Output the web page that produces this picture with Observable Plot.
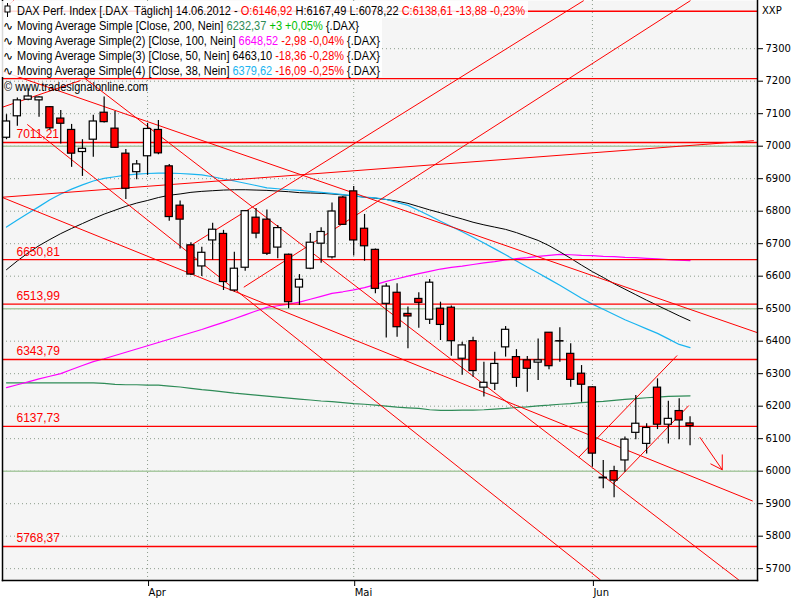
<!DOCTYPE html>
<html><head><meta charset="utf-8">
<script src="https://cdn.jsdelivr.net/npm/d3@7"></script>
<script src="https://cdn.jsdelivr.net/npm/@observablehq/plot@0.6"></script>
<style>body{margin:0;background:#fff} #chart{width:800px;height:600px}</style>
</head><body><div id="chart"></div>
<script>
// trading days (index = position)
const dates = ["2012-03-14","2012-03-15","2012-03-16","2012-03-19","2012-03-20","2012-03-21","2012-03-22","2012-03-23","2012-03-26","2012-03-27","2012-03-28","2012-03-29","2012-03-30",
"2012-04-02","2012-04-03","2012-04-04","2012-04-05","2012-04-10","2012-04-11","2012-04-12","2012-04-13","2012-04-16","2012-04-17","2012-04-18","2012-04-19","2012-04-20","2012-04-23","2012-04-24","2012-04-25","2012-04-26","2012-04-27","2012-04-30",
"2012-05-02","2012-05-03","2012-05-04","2012-05-07","2012-05-08","2012-05-09","2012-05-10","2012-05-11","2012-05-14","2012-05-15","2012-05-16","2012-05-17","2012-05-18","2012-05-21","2012-05-22","2012-05-23","2012-05-24","2012-05-25","2012-05-28","2012-05-29","2012-05-30","2012-05-31",
"2012-06-01","2012-06-04","2012-06-05","2012-06-06","2012-06-07","2012-06-08","2012-06-11","2012-06-12","2012-06-13","2012-06-14"];
const open  = [7026,7092,7143,7141,7120,7085,7050,6982,7020,7103,7054,6977,6920,6969,7050,6938,6817,6695,6630,6710,6730,6556,6626,6780,6774,6688,6666,6565,6623,6700,6658,6842,6861,6746,6681,6515,6549,6484,6530,6466,6500,6503,6346,6400,6257,6269,6381,6351,6341,6334,6426,6400,6361,6300,6258,5980,6000,6033,6118,6084,6257,6143,6185,6146.92];
const high  = [7097,7148,7177,7152,7122,7110,7067,7020,7095,7151,7107,6990,6956,7070,7079,6944,6831,6703,6689,6763,6741,6674,6802,6808,6804,6756,6668,6605,6731,6749,6825,6845,6876,6790,6684,6577,6577,6505,6549,6590,6520,6508,6397,6412,6335,6366,6445,6374,6353,6407,6427,6441,6392,6325,6260,6033,6015,6105,6233,6146,6284,6215,6223,6167.49];
const low   = [7020,7061,7140,7089,7050,7007,6935,6907,6966,7071,6993,6836,6897,6910,6974,6769,6684,6602,6599,6650,6556,6551,6615,6715,6664,6654,6500,6510,6620,6640,6653,6756,6662,6646,6546,6410,6412,6377,6440,6451,6402,6354,6295,6289,6228,6248,6351,6258,6243,6279,6312,6335,6258,6212,6012,5946,5918,5997,6097,6053,6128,6084,6097,6078.22];
const close = [7076,7141,7153,7150,7055,7069,6977,6992,7076,7074,6995,6869,6944,7053,6978,6782,6774,6605,6672,6743,6582,6623,6800,6731,6669,6748,6520,6589,6703,6736,6799,6758,6710,6692,6561,6568,6443,6476,6518,6580,6450,6400,6387,6308,6272,6330,6435,6287,6315,6341,6323,6399,6281,6266,6054,5978,5971,6097,6146,6133,6143,6161,6156,6138.61];
// moving averages read per candle
const ma200 = [6272,6272,6272,6272,6272,6272,6272,6272,6272,6270,6267,6266,6266,6265,6265,6262,6259,6255,6251,6248,6244,6240,6237,6234,6231,6228,6225,6222,6219,6216,6214,6211,6208,6206,6203,6200,6197,6195,6193,6189,6187,6187,6188,6188,6189,6191,6193,6196,6198,6201,6203,6206,6208,6211,6213,6215,6218,6221,6223,6226,6228,6230,6231,6232];
const ma100 = [6257,6266,6275,6284,6292,6300,6313,6325,6337,6346,6356,6366,6376,6386,6396,6406,6416,6426,6436,6447,6458,6469,6481,6493,6504,6509,6514,6520,6529,6538,6547,6552,6558,6565,6574,6584,6592,6600,6608,6615,6622,6627,6631,6636,6641,6645,6650,6654,6657,6661,6664,6667,6666,6664,6663,6661,6660,6658,6657,6655,6653,6651,6649,6648];
const ma50  = [6620,6647,6672,6694,6713,6731,6747,6762,6777,6791,6803,6815,6825,6833,6842,6849,6853,6858,6861,6863,6865,6866,6866,6865,6864,6862,6860,6857,6856,6855,6853,6850,6847,6843,6840,6836,6831,6824,6814,6804,6795,6785,6776,6766,6758,6751,6744,6734,6722,6710,6694,6675,6655,6634,6614,6596,6577,6560,6543,6526,6510,6494,6478,6463];
const ma38  = [6751,6773,6794,6814,6835,6853,6868,6881,6893,6901,6906,6911,6914,6916,6917,6917,6916,6914,6912,6906,6899,6893,6886,6879,6872,6869,6866,6864,6861,6858,6855,6851,6847,6843,6841,6836,6827,6818,6802,6786,6769,6753,6737,6720,6702,6684,6666,6647,6628,6610,6591,6572,6552,6532,6514,6498,6482,6466,6452,6438,6424,6407,6390,6380];
// horizontal levels
const levels = [7415, 7208, 7011.21, 6650.81, 6513.99, 6343.79, 6137.73, 5768.37];
const labeledLevels = [7011.21, 6650.81, 6513.99, 6343.79, 6137.73, 5768.37];
const roundLevels = [7000, 6500, 6000];
// trendlines: (candle index, price) endpoints
const trendX1 = [-0.37, -0.37, 1.91, 7.25, 16.96, 21.87, -0.37, 52.75, 55.92, -0.37, -0.37];
const trendY1 = [7230, 6842, 7067, 7208, 6694, 6566, 6843, 6043, 5961, 7120, 7418];
const trendX2 = [69.22, 68.78, 54.75, 67.5, 53.2, 63.04, 68.88, 61.81, 62.89, 6.82, 0.65];
const trendY2 = [6426, 5908, 5665, 5665, 7448, 7448, 7017, 6356, 6202, 7202, 7448];
const arrowX1 = [63.9, 65.97, 64.88];
const arrowY1 = [6104.6, 6051.4, 6022.8];
const arrowX2 = [65.97, 65.97, 65.97];
const arrowY2 = [6004.3, 6004.3, 6004.3];
const priceTicks = [5700,5800,5900,6000,6100,6200,6300,6400,6500,6600,6700,6800,6900,7000,7100,7200,7300];
const monthNames = {"04":"Apr","05":"Mai","06":"Jun"};

const idx = d3.range(dates.length);
const candles = idx.map(i => ({i, o: open[i], h: high[i], l: low[i], c: close[i]}));
const monthTicks = idx.filter(i => i > 0 && dates[i].slice(5,7) !== dates[i-1].slice(5,7));
const trend = trendX1.map((_, k) => ({x1: trendX1[k], y1: trendY1[k], x2: trendX2[k], y2: trendY2[k]}));
const arrow = arrowX1.map((_, k) => ({x1: arrowX1[k], y1: arrowY1[k], x2: arrowX2[k], y2: arrowY2[k]}));
const maSeries = (arr) => arr.map((v, i) => ({i, v}));
const fmt = v => v.toFixed(2).replace(".", ",");

const grid = {stroke: "#8c9c8c", strokeOpacity: 1, strokeDasharray: "1,3"};
const plot = Plot.plot({
  width: 800, height: 600,
  marginLeft: 2, marginRight: 43, marginTop: 0, marginBottom: 20,
  style: {background: "#fff", fontFamily: "DejaVu Sans, sans-serif", fontSize: "10px", color: "#000"},
  x: {type: "linear", domain: [-0.3687, 69.217], axis: null},
  y: {domain: [5663.6, 7448.3], axis: null},
  marks: [
    Plot.frame({fill: "#f5f5f5", stroke: null}),
    Plot.gridY(priceTicks, grid),
    Plot.gridX(monthTicks, grid),
    Plot.ruleY(roundLevels, {stroke: "#a9c9a2", strokeWidth: 1.5}),
    Plot.line(maSeries(ma200), {x: "i", y: "v", stroke: "#2e8b57", strokeWidth: 1.2}),
    Plot.line(maSeries(ma100), {x: "i", y: "v", stroke: "#ff00ff", strokeWidth: 1.2}),
    Plot.line(maSeries(ma50), {x: "i", y: "v", stroke: "#000", strokeWidth: 1}),
    Plot.line(maSeries(ma38), {x: "i", y: "v", stroke: "#19b4f0", strokeWidth: 1.2}),
    Plot.link(trend, {x1: "x1", y1: "y1", x2: "x2", y2: "y2", stroke: "#ff0000", strokeWidth: 1, clip: true}),
    Plot.link(arrow, {x1: "x1", y1: "y1", x2: "x2", y2: "y2", stroke: "#ff0000", strokeWidth: 1}),
    Plot.ruleY(levels, {stroke: "#ff0000", strokeWidth: 1.4}),
    Plot.text(labeledLevels, {y: d => d, text: fmt, frameAnchor: "left", dx: 14, dy: -8, textAnchor: "start", fill: "#ff0000", fontSize: 12, fontFamily: "Liberation Sans, Arial, sans-serif"}),
    Plot.ruleX(candles, {x: "i", y1: "l", y2: "h", stroke: "#000", strokeWidth: 1.2}),
    Plot.rect(candles, {x1: d => d.i - 0.33, x2: d => d.i + 0.33, y1: "o", y2: "c", fill: d => d.c < d.o ? "#ff0000" : "#ffffff", stroke: "#000", strokeWidth: 1.2}),
    Plot.axisY(priceTicks, {anchor: "right", tickSize: 5, tickPadding: 3, tickFormat: d => String(d), fontSize: 10}),
    Plot.axisX(monthTicks, {anchor: "bottom", tickSize: 6, tickPadding: 2, tickFormat: i => monthNames[dates[i].slice(5,7)], textAnchor: "start", dx: 1, fontSize: 10}),
    Plot.frame({anchor: "left", stroke: "#000", strokeWidth: 1.5}),
    Plot.frame({anchor: "right", stroke: "#000", strokeWidth: 1.5}),
    Plot.frame({anchor: "bottom", stroke: "#000", strokeWidth: 1.5})
  ]
});
document.getElementById("chart").appendChild(plot);

// legend overlay
const svg = d3.select(plot);
const lg = svg.append("g").attr("font-family", "Liberation Sans, Arial, sans-serif").attr("font-size", 12.5)
  .attr("text-anchor", "start").style("white-space", "pre");
lg.append("rect").attr("x", 1).attr("y", 1).attr("width", 527).attr("height", 17).attr("fill", "#fff").attr("fill-opacity", 0.85);
lg.append("rect").attr("x", 1).attr("y", 18).attr("width", 381).attr("height", 59).attr("fill", "#fff").attr("fill-opacity", 0.85);
const K = "#000", R = "#ff0000";
const rows = [
  [["DAX Perf. Index [.DAX  Täglich] 14.06.2012 - ", K], ["O:6146,92", R], [" H:6167,49 L:6078,22 ", K], ["C:6138,61 -13,88 -0,23%", R]],
  [["Moving Average Simple [Close, 200, Nein] ", K], ["6232,37", "#2e8b57"], [" +3 +0,05%", "#00c000"], [" {.DAX}", K]],
  [["Moving Average Simple(2) [Close, 100, Nein] ", K], ["6648,52", "#ff00ff"], [" -2,98 -0,04%", R], [" {.DAX}", K]],
  [["Moving Average Simple(3) [Close, 50, Nein] 6463,10", K], [" -18,36 -0,28%", R], [" {.DAX}", K]],
  [["Moving Average Simple(4) [Close, 38, Nein] ", K], ["6379,62", "#19b4f0"], [" -16,09 -0,25%", R], [" {.DAX}", K]]
];
const rowWidths = [508, 342, 363, 363, 363];
rows.forEach((row, k) => {
  const t = lg.append("text").attr("x", 17).attr("y", 14.5 + 15 * k)
    .attr("textLength", rowWidths[k]).attr("lengthAdjust", "spacingAndGlyphs");
  row.forEach(([s, c]) => t.append("tspan").attr("fill", c).text(s));
  if (k > 0) lg.append("text").attr("x", 3).attr("y", 14.5 + 15 * k).attr("font-family", "DejaVu Sans, sans-serif").attr("font-size", 12).text("∿");
});
// candle icon row 1
lg.append("line").attr("x1", 7.5).attr("x2", 7.5).attr("y1", 3).attr("y2", 17).attr("stroke", "#000");
lg.append("rect").attr("x", 5).attr("y", 6).attr("width", 5).attr("height", 6).attr("fill", "#fff").attr("stroke", "#000");
lg.append("text").attr("x", 4).attr("y", 90.5).attr("textLength", 144).attr("lengthAdjust", "spacingAndGlyphs").text("© www.tradesignalonline.com");
svg.append("text").attr("x", 762).attr("y", 14).attr("text-anchor", "start").attr("font-family", "DejaVu Sans, sans-serif").attr("font-size", 10).text("XXP");
</script>
</body></html>
